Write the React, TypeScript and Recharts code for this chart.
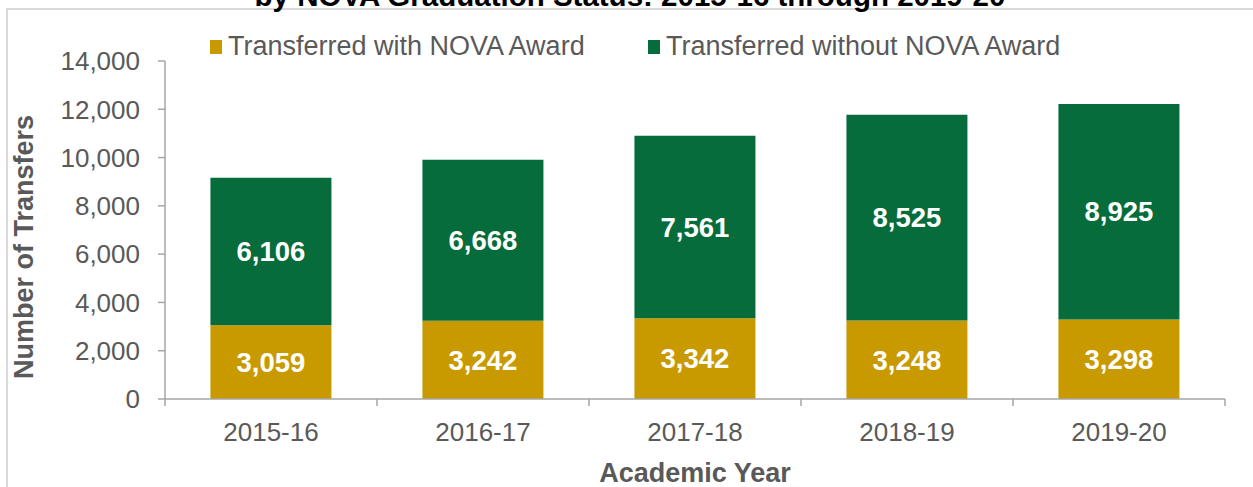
import { Bar, BarChart, LabelList, Legend, XAxis, YAxis } from "recharts";

// Academic years on the category axis
const years = ["2015-16", "2016-17", "2017-18", "2018-19", "2019-20"];
// Transfers by NOVA graduation status
const withAward = [3059, 3242, 3342, 3248, 3298];
const withoutAward = [6106, 6668, 7561, 8525, 8925];
const yTicks = [0, 2000, 4000, 6000, 8000, 10000, 12000, 14000];

const seriesNames = ["Transferred with NOVA Award", "Transferred without NOVA Award"];

const data = years.map((year, i) => ({
  year,
  withAward: withAward[i],
  withoutAward: withoutAward[i],
}));

const GOLD = "#C99A00";
const GREEN = "#066C3B";
const AXIS = "#A6A6A6";
const TEXT = "#595959";
const FONT = "'Liberation Sans', Arial, sans-serif";

const TICK_SIZE = 7;
const X_TICK_MARGIN = 16.5;

const fmt = (v: unknown) => Number(v).toLocaleString("en-US");

// Excel-style category ticks: marks sit between categories, labels at centers.
function YearTick(props: any) {
  const { x, y, payload, index, visibleTicksCount } = props;
  const half = payload?.offset ?? 106;
  const lineTop = y - TICK_SIZE - X_TICK_MARGIN;
  const last = index === visibleTicksCount - 1;
  return (
    <g>
      <line x1={x - half} x2={x - half} y1={lineTop} y2={lineTop + TICK_SIZE} stroke={AXIS} strokeWidth={1.5} />
      {last && (
        <line x1={x + half} x2={x + half} y1={lineTop} y2={lineTop + TICK_SIZE} stroke={AXIS} strokeWidth={1.5} />
      )}
      <text x={x} y={y} dy="0.71em" textAnchor="middle" fill={TEXT} fontSize={26} fontFamily={FONT}>
        {payload.value}
      </text>
    </g>
  );
}

function YTitle(props: any) {
  const { viewBox } = props;
  const x = viewBox.x + 33;
  const y = viewBox.y + viewBox.height / 2 + 17;
  return (
    <text
      x={x}
      y={y}
      transform={`rotate(-90 ${x} ${y})`}
      textAnchor="middle"
      fill={TEXT}
      fontSize={27}
      fontWeight="bold"
      fontFamily={FONT}
    >
      Number of Transfers
    </text>
  );
}

function LegendBox() {
  const colors = [GOLD, GREEN];
  return (
    <div style={{ display: "flex", paddingLeft: 210, fontFamily: FONT }}>
      {seriesNames.map((name, i) => (
        <div
          key={name}
          style={{
            display: "flex",
            alignItems: "center",
            height: 27,
            width: i === 0 ? 438 : undefined,
          }}
        >
          <span style={{ width: 12, height: 14, background: colors[i], marginRight: 6 }} />
          <span style={{ fontSize: 27, lineHeight: "27px", color: TEXT }}>{name}</span>
        </div>
      ))}
    </div>
  );
}

export default function App() {
  return (
    <div
      style={{
        position: "absolute",
        left: 0,
        top: 0,
        width: 1253,
        height: 487,
        overflow: "hidden",
        background: "#fff",
      }}
    >
      <div
        style={{
          position: "absolute",
          left: 6,
          top: 8,
          width: 1400,
          height: 700,
          border: "2px solid #D9D9D9",
        }}
      />
      <svg width={1253} height={20} style={{ position: "absolute", left: 0, top: 0 }}>
        <text x={630} y={6} textAnchor="middle" fontSize={29.5} fontWeight="bold" fontFamily={FONT} fill="#000">
          by NOVA Graduation Status: 2015-16 through 2019-20
        </text>
      </svg>
      <div style={{ position: "absolute", left: 0, top: 0 }}>
        <BarChart
          width={1253}
          height={487}
          data={data}
          margin={{ top: 61, right: 28, bottom: 0, left: 0 }}
          barCategoryGap="21.43%"
          style={{ fontFamily: FONT }}
        >
          <XAxis
            dataKey="year"
            height={88}
            interval={0}
            axisLine={{ stroke: AXIS, strokeWidth: 1.5 }}
            tickLine={false}
            tickSize={TICK_SIZE}
            tickMargin={X_TICK_MARGIN}
            tick={<YearTick />}
            label={{
              value: "Academic Year",
              position: "insideBottom",
              offset: 5,
              fill: TEXT,
              fontSize: 27,
              fontWeight: "bold",
              fontFamily: FONT,
            }}
          />
          <YAxis
            width={165}
            domain={[0, 14000]}
            ticks={yTicks}
            interval={0}
            tickFormatter={fmt}
            axisLine={{ stroke: AXIS, strokeWidth: 1.5 }}
            tickLine={{ stroke: AXIS, strokeWidth: 1.5 }}
            tickSize={TICK_SIZE}
            tickMargin={18}
            tick={{ fill: TEXT, fontSize: 26, fontFamily: FONT }}
            label={<YTitle />}
          />
          <Legend
            verticalAlign="middle"
            align="center"
            wrapperStyle={{ top: 33, left: 0, width: 1253 }}
            content={<LegendBox />}
          />
          <Bar dataKey="withAward" name={seriesNames[0]} stackId="a" fill={GOLD} isAnimationActive={false}>
            <LabelList
              dataKey="withAward"
              position="center"
              formatter={fmt}
              fill="#fff"
              fontSize={27.5}
              fontWeight="bold"
              fontFamily={FONT}
            />
          </Bar>
          <Bar dataKey="withoutAward" name={seriesNames[1]} stackId="a" fill={GREEN} isAnimationActive={false}>
            <LabelList
              dataKey="withoutAward"
              position="center"
              formatter={fmt}
              fill="#fff"
              fontSize={27.5}
              fontWeight="bold"
              fontFamily={FONT}
            />
          </Bar>
        </BarChart>
      </div>
    </div>
  );
}
